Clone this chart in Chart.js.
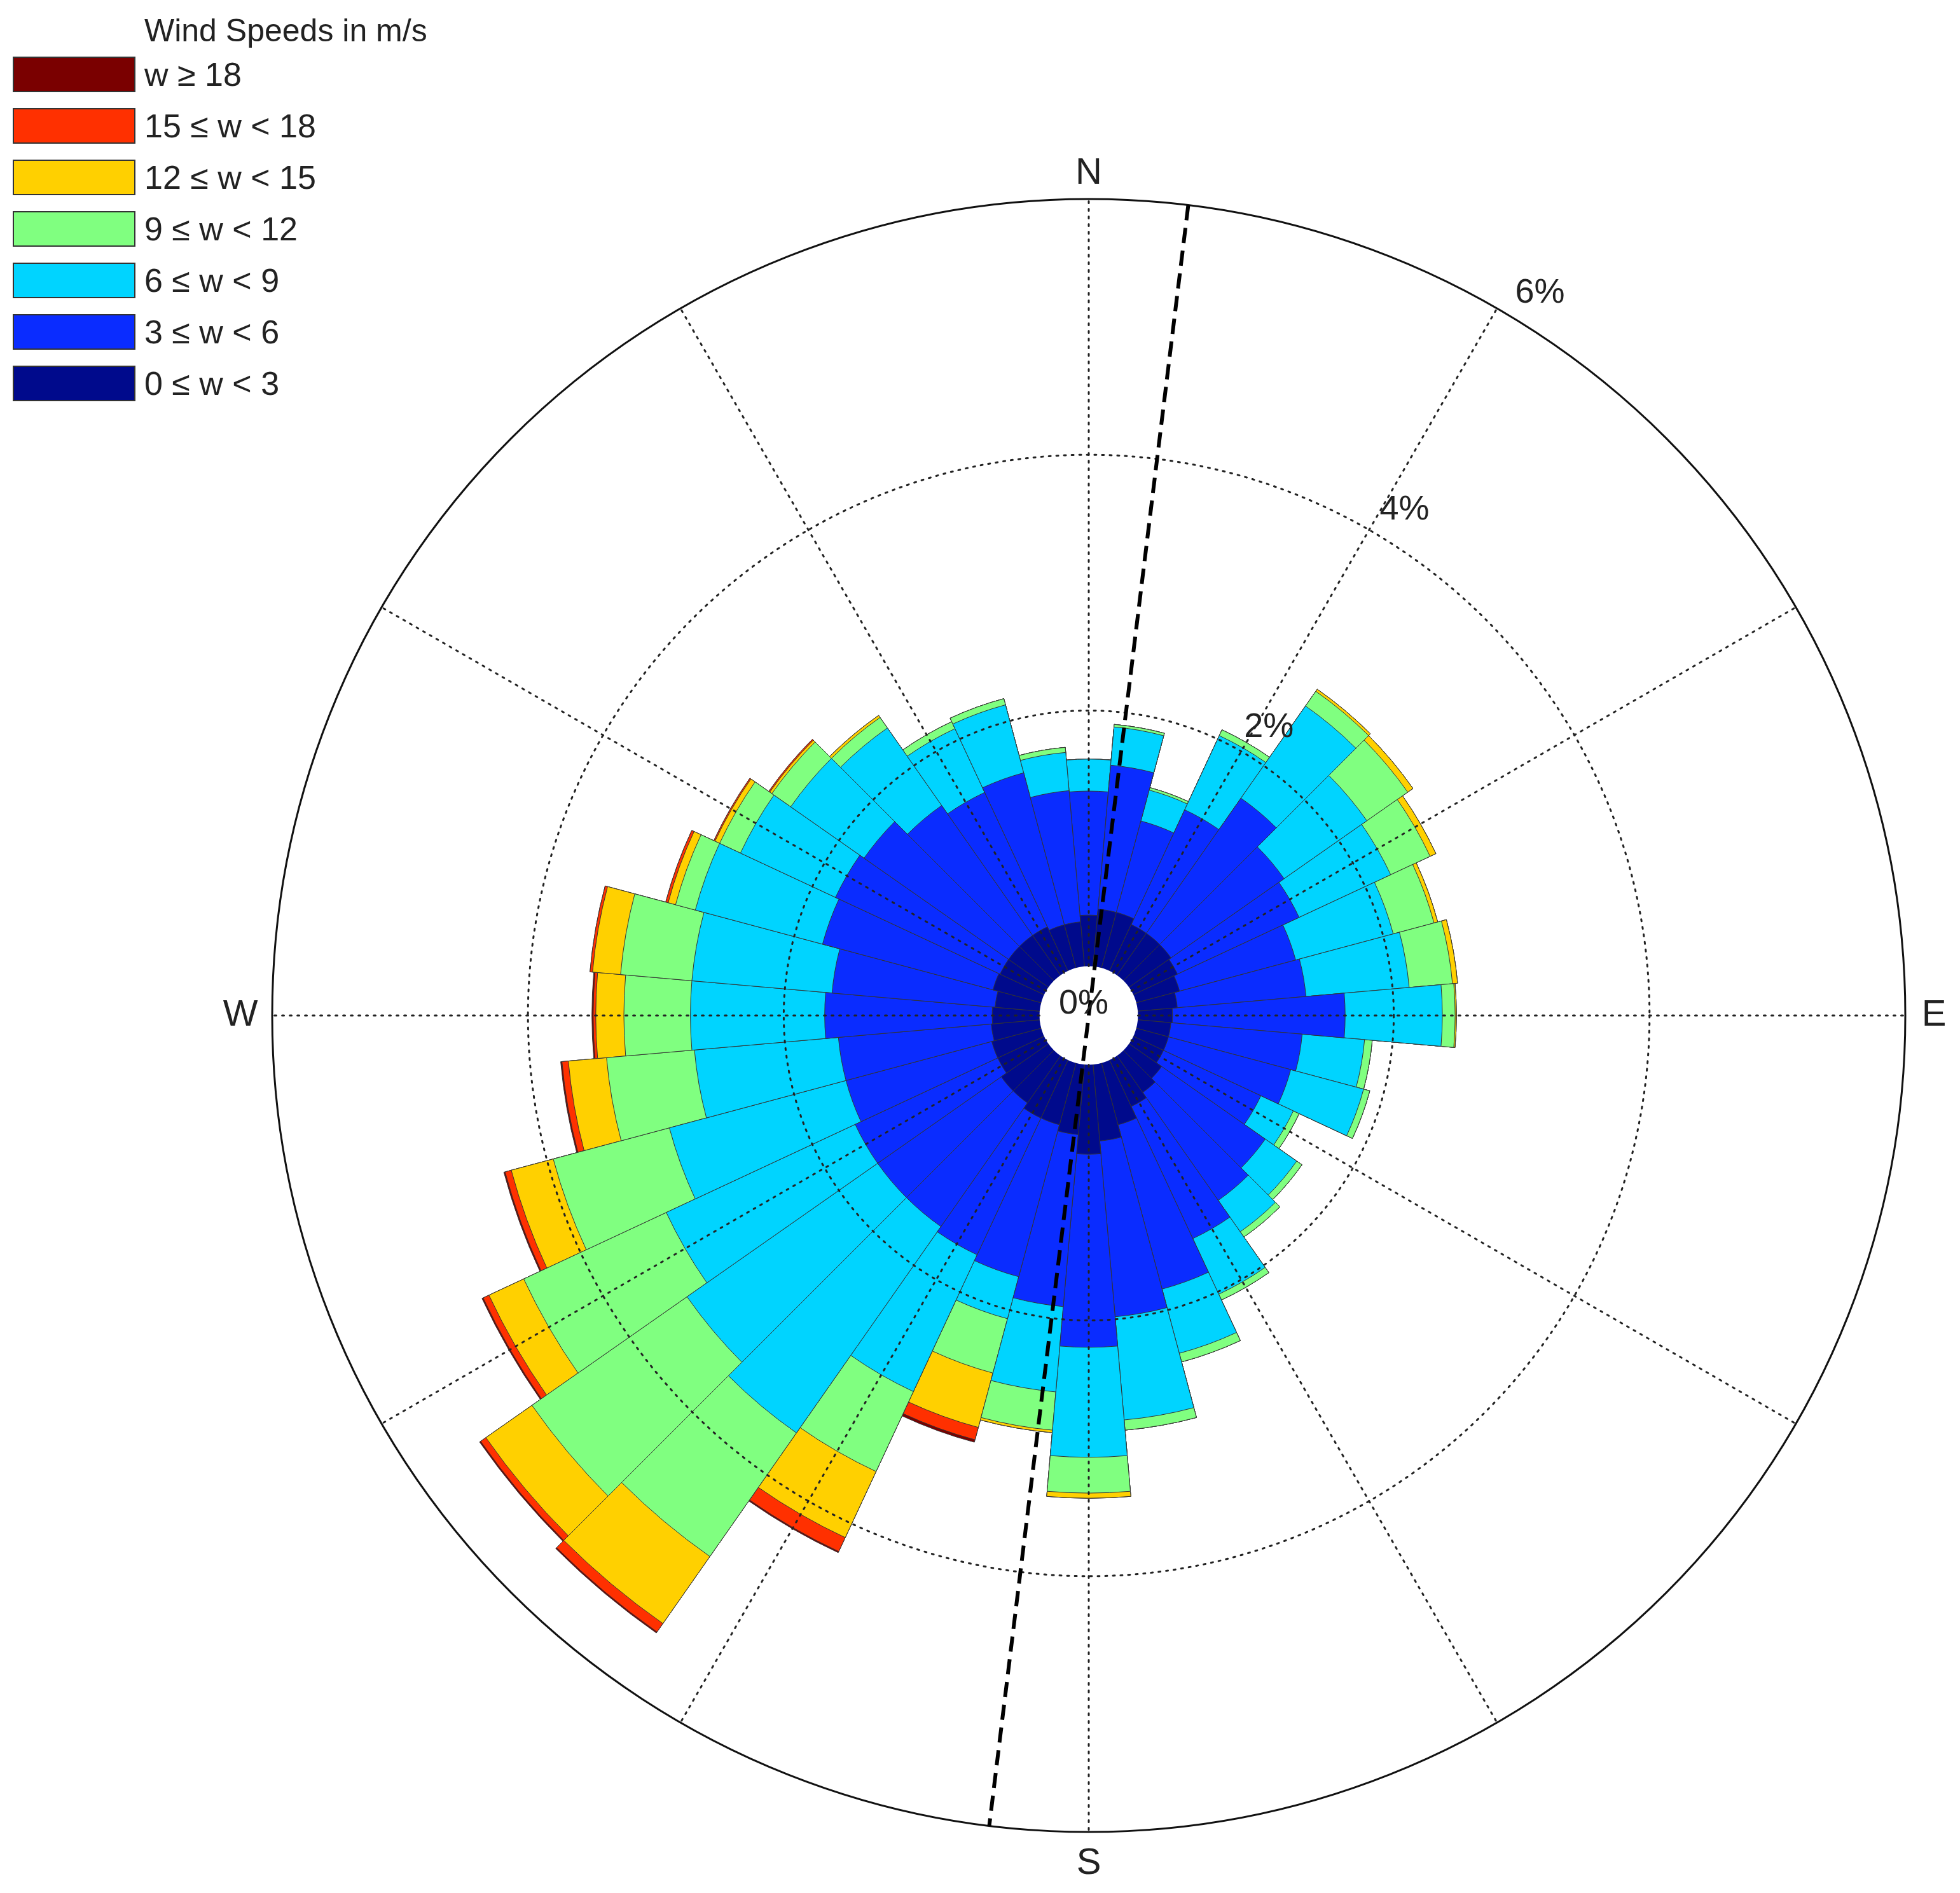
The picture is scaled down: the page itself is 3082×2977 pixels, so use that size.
<!DOCTYPE html>
<html><head><meta charset="utf-8">
<script src="https://cdn.jsdelivr.net/npm/chart.js@4/dist/chart.umd.min.js"></script>
<style>
html,body{margin:0;padding:0;background:#fff;}
#wrap{position:relative;width:3082px;height:2977px;}
#legend{position:absolute;left:20px;top:20px;font-family:"Liberation Sans",Arial,sans-serif;color:#222;}
#legend .t{font-size:50px;margin-left:207px;line-height:56px;}
#legend .row{display:flex;align-items:center;height:81px;}
#legend .sw{width:193px;height:56px;border:2px solid #333;box-sizing:border-box;margin-right:14px;}
#legend .lb{font-size:52px;}
</style></head>
<body><div id="wrap"><canvas id="c" width="3082" height="2977"></canvas><div id="legend"></div></div>
<script>
// compass direction of each sector (degrees clockwise from north)
const directions = [0,10,20,30,40,50,60,70,80,90,100,110,120,130,140,150,160,170,180,190,200,210,220,230,240,250,260,270,280,290,300,310,320,330,340,350];
// frequency (%) per speed band
const w0to3   = [0.40,0.45,0.45,0.40,0.40,0.40,0.38,0.35,0.31,0.27,0.26,0.26,0.26,0.31,0.35,0.40,0.50,0.60,0.70,0.55,0.50,0.50,0.45,0.45,0.40,0.40,0.38,0.37,0.35,0.39,0.38,0.38,0.38,0.38,0.35,0.35];
const w3to6   = [0.97,1.13,0.74,0.99,1.29,1.08,1.05,0.94,1.01,1.35,1.03,0.99,0.84,0.99,1.03,1.14,1.33,1.38,1.51,1.35,1.23,1.18,1.18,1.18,1.23,1.18,1.20,1.31,1.28,1.38,1.42,1.38,1.24,1.16,1.23,1.03];
const w6to9   = [0.25,0.30,0.25,0.64,0.88,0.79,0.79,0.79,0.81,0.76,0.49,0.59,0.28,0.30,0.30,0.48,0.52,0.81,0.86,0.67,0.34,1.18,1.97,1.82,1.63,1.43,1.13,1.05,1.10,1.03,0.82,0.70,0.74,0.55,0.55,0.30];
const w9to12  = [0.00,0.02,0.02,0.05,0.14,0.39,0.34,0.33,0.34,0.10,0.06,0.05,0.05,0.05,0.05,0.05,0.07,0.08,0.28,0.30,0.44,0.69,1.18,1.48,1.23,0.94,0.69,0.52,0.56,0.16,0.18,0.18,0.10,0.06,0.05,0.04];
const w12to15 = [0.00,0.00,0.00,0.00,0.02,0.05,0.05,0.03,0.04,0.01,0.00,0.00,0.00,0.00,0.00,0.00,0.00,0.00,0.04,0.02,0.44,0.57,0.64,0.44,0.30,0.34,0.30,0.22,0.22,0.06,0.04,0.02,0.02,0.00,0.00,0.00];
const w15to18 = [0,0,0,0,0,0,0,0,0,0,0,0,0,0,0,0,0,0,0,0,0.10,0.12,0.08,0.05,0.05,0.05,0.05,0.02,0.02,0.02,0.01,0.01,0,0,0,0];
const w18up   = [0,0,0,0,0,0,0,0,0,0,0,0,0,0,0,0,0,0,0,0,0.02,0.01,0.01,0.01,0.01,0.01,0.01,0.01,0,0,0,0,0,0,0,0];
const bandLabels = ["0 \u2264 w < 3","3 \u2264 w < 6","6 \u2264 w < 9","9 \u2264 w < 12","12 \u2264 w < 15","15 \u2264 w < 18","w \u2265 18"];
const bandColors = ["#000a8c","#0a2cff","#00d4ff","#80ff80","#ffd000","#ff3000","#7a0000"];
const ringValues = [2,4,6];
const compassLabels = [["N",0,40],["E",90,45],["S",180,50],["W",270,50]];
const dashedLineAngle = 7;

const bands=[w0to3,w3to6,w6to9,w9to12,w12to15,w15to18,w18up];
const datasets=[]; let run=directions.map(()=>0);
bands.forEach((b,k)=>{run=run.map((v,i)=>v+b[i]);
  datasets.push({label:bandLabels[k],data:run.slice(),backgroundColor:bandColors[k],borderColor:"#333",borderWidth:1});});

const lg=document.getElementById('legend');
let h='<div class="t">Wind Speeds in m/s</div>';
for(let k=bandLabels.length-1;k>=0;k--) h+=`<div class="row"><div class="sw" style="background:${bandColors[k]}"></div><span class="lb">${bandLabels[k]}</span></div>`;
lg.innerHTML=h;

const deco={id:'deco',afterDatasetsDraw(chart){
  const s=chart.scales.r, ctx=chart.ctx, xc=s.xCenter, yc=s.yCenter;
  const R=v=>s.getDistanceFromCenterForValue(v);
  const P=(a,r)=>[xc+r*Math.sin(a*Math.PI/180), yc-r*Math.cos(a*Math.PI/180)];
  const r0=R(0), rMax=R(6);
  ctx.save();
  ctx.fillStyle='#fff';ctx.beginPath();ctx.arc(xc,yc,r0,0,2*Math.PI);ctx.fill();
  ctx.strokeStyle='#222';ctx.lineWidth=3;ctx.setLineDash([3,9]);ctx.lineCap='round';
  ringValues.slice(0,-1).forEach(v=>{ctx.beginPath();ctx.arc(xc,yc,R(v),0,2*Math.PI);ctx.stroke();});
  for(let a=0;a<360;a+=30){const p1=P(a,r0),p2=P(a,rMax);ctx.beginPath();ctx.moveTo(p1[0],p1[1]);ctx.lineTo(p2[0],p2[1]);ctx.stroke();}
  ctx.setLineDash([]);ctx.lineWidth=3;ctx.strokeStyle='#111';
  ctx.beginPath();ctx.arc(xc,yc,rMax,0,2*Math.PI);ctx.stroke();
  ctx.lineWidth=6;ctx.setLineDash([24,12]);ctx.lineCap='butt';ctx.strokeStyle='#000';
  const a1=P(dashedLineAngle,rMax),a2=P(dashedLineAngle+180,rMax);
  ctx.beginPath();ctx.moveTo(a1[0],a1[1]);ctx.lineTo(a2[0],a2[1]);ctx.stroke();
  ctx.setLineDash([]);
  ctx.fillStyle='#222';ctx.font='54px "Liberation Sans", Arial, sans-serif';ctx.textAlign='center';ctx.textBaseline='middle';
  ctx.fillText('0%',xc-8,yc-18);
  ringValues.forEach(v=>{const p=P(32,R(v)+55);ctx.fillText(v+'%',p[0],p[1]);});
  ctx.font='58px "Liberation Sans", Arial, sans-serif';
  compassLabels.forEach(([t,a,off])=>{const p=P(a,rMax+off);ctx.fillText(t,p[0],p[1]);});
  ctx.restore();
}};

new Chart(document.getElementById('c'),{
  type:'polarArea',
  data:{labels:directions.map(String),datasets},
  options:{responsive:false,animation:false,devicePixelRatio:1,
    layout:{padding:{left:428,right:86,top:313,bottom:96}},
    plugins:{legend:{display:false},tooltip:{enabled:false}},
    scales:{r:{min:-0.385,max:6,startAngle:-5,
      ticks:{display:false},grid:{display:false},angleLines:{display:false},pointLabels:{display:false}}}},
  plugins:[deco]
});
</script></body></html>
